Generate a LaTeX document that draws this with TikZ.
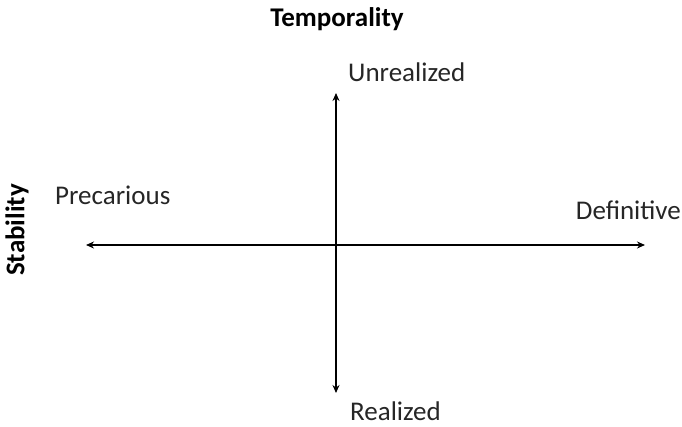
\documentclass[tikz,border=0pt]{standalone}
\usepackage{fontspec}
\setmainfont{Carlito}
\usetikzlibrary{arrows.meta}
\begin{document}
\begin{tikzpicture}[x=1pt,y=-1pt,
  lbl/.style={inner sep=0pt,font=\fontsize{27}{32}\selectfont,text=black!85},
  ttl/.style={inner sep=0pt,font=\bfseries\fontsize{27}{32}\selectfont},
  axis/.style={line width=1.3pt,{Stealth[length=8pt,width=7pt]}-{Stealth[length=8pt,width=7pt]}}]
\useasboundingbox (0,0) rectangle (682,426);
\coordinate (L) at (86,245);
\coordinate (R) at (645,245);
\coordinate (T) at (336,93);
\coordinate (B) at (336,393);
\draw[axis] (L) -- (R);
\draw[axis] (T) -- (B);
\node[ttl] (temp) at (337,19) {Temporality};
\node[ttl,rotate=90] (stab) at (17,230) {Stability};
\node[lbl,anchor=west] (unr) at (348,72) {Unrealized};
\node[lbl,anchor=west] (pre) at (55,195) {Precarious};
\node[lbl,anchor=east] (def) at (681,210) {Definitive};
\node[lbl,anchor=base west] (rea) at (350,420) {Realized};
\end{tikzpicture}
\end{document}
